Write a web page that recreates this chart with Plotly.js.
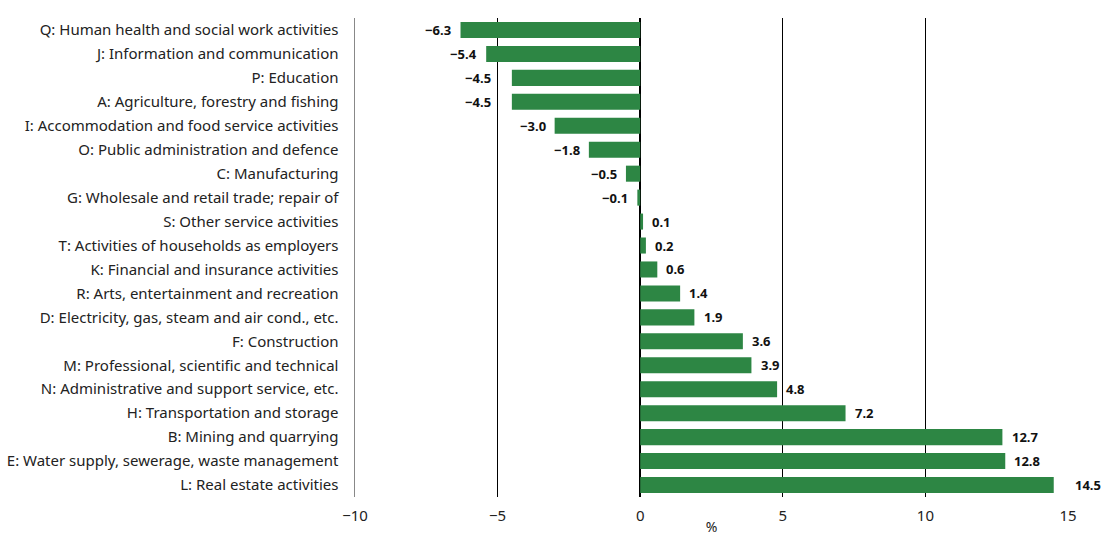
<!DOCTYPE html>
<html>
<head>
<meta charset="utf-8">
<script src="https://cdn.plot.ly/plotly-3.0.1.min.js"></script>
<style>html,body{margin:0;padding:0;background:#fff;}#chart{width:1101px;height:536px;}</style>
</head>
<body>
<div id="chart"></div>
<script>
const categories = [
  "Q: Human health and social work activities",
  "J: Information and communication",
  "P: Education",
  "A: Agriculture, forestry and fishing",
  "I: Accommodation and food service activities",
  "O: Public administration and defence",
  "C: Manufacturing",
  "G: Wholesale and retail trade; repair of",
  "S: Other service activities",
  "T: Activities of households as employers",
  "K: Financial and insurance activities",
  "R: Arts, entertainment and recreation",
  "D: Electricity, gas, steam and air cond., etc.",
  "F: Construction",
  "M: Professional, scientific and technical",
  "N: Administrative and support service, etc.",
  "H: Transportation and storage",
  "B: Mining and quarrying",
  "E: Water supply, sewerage, waste management",
  "L: Real estate activities"
];
const values = [-6.3, -5.4, -4.5, -4.5, -3.0, -1.8, -0.5, -0.1, 0.1, 0.2, 0.6, 1.4, 1.9, 3.6, 3.9, 4.8, 7.2, 12.7, 12.8, 14.5];
const tickValues = [-10, -5, 0, 5, 10, 15];
const tickLabels = ["\u221210", "\u22125", "0", "5", "10", "15"];
const fmt = v => (v < 0 ? "\u2212" : "") + Math.abs(v).toFixed(1);

const FONT = "'Noto Sans', sans-serif";
const X_RANGE = [-10, 15];

// label placement: small gap from bar end, hop over any gridline the label would cross
const GAP = 0.25, CHAR_W = 0.26, HOP = 0.16;
function labelX(v) {
  const w = fmt(v).length * CHAR_W;
  if (v < 0) {
    let x = v - GAP;
    tickValues.forEach(t => { if (t < x && t > x - w) x = t - HOP; });
    return x;
  }
  let x = v + GAP;
  tickValues.forEach(t => { if (t > x && t < x + w) x = t + HOP; });
  return x;
}
const toPaper = x => (x - X_RANGE[0]) / (X_RANGE[1] - X_RANGE[0]);

const annotations = values.map((v, i) => ({
  x: toPaper(labelX(v)),
  y: categories[i],
  xref: "paper",
  yref: "y",
  text: fmt(v),
  showarrow: false,
  xanchor: v < 0 ? "right" : "left",
  yanchor: "middle",
  font: {family: FONT, size: 13, color: "#111", weight: "bold"}
}));

Plotly.newPlot("chart", [{
  type: "bar",
  orientation: "h",
  x: values,
  y: categories,
  marker: {color: "#2d8644"},
  hoverinfo: "none"
}], {
  width: 1101,
  height: 536,
  margin: {l: 355, r: 33, t: 18, b: 39},
  paper_bgcolor: "#fff",
  plot_bgcolor: "#fff",
  bargap: 0.33,
  showlegend: false,
  annotations: annotations,
  font: {family: FONT, size: 15, color: "#222"},
  xaxis: {
    range: X_RANGE,
    tickvals: tickValues,
    ticktext: tickLabels,
    showgrid: true,
    gridcolor: "#000",
    gridwidth: 1,
    zeroline: true,
    zerolinecolor: "#000",
    zerolinewidth: 2,
    ticks: "",
    ticklabelstandoff: 8,
    tickfont: {family: FONT, size: 15, color: "#222"},
    title: {text: "%", font: {family: FONT, size: 14, color: "#222"}, standoff: 0},
    fixedrange: true
  },
  yaxis: {
    autorange: "reversed",
    showline: true,
    linecolor: "#888",
    linewidth: 1.5,
    ticks: "",
    ticklabelstandoff: 12,
    tickfont: {family: FONT, size: 15, color: "#222"},
    showgrid: false,
    fixedrange: true
  }
}, {displayModeBar: false, staticPlot: true});
</script>
</body>
</html>
